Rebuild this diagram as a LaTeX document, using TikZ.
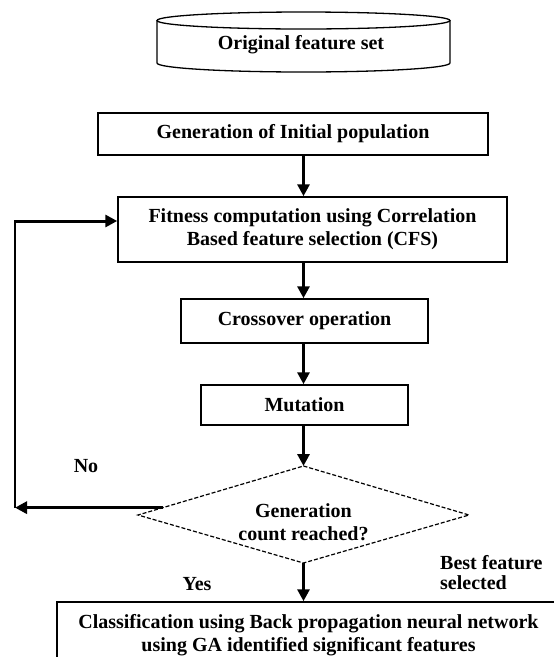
\documentclass[tikz,border=0pt]{standalone}
\usepackage{fontspec}
\setmainfont{Liberation Serif}
\usetikzlibrary{arrows.meta,calc}
\begin{document}
\begin{tikzpicture}[x=1pt,y=-1pt,
  box/.style={draw,line width=1.5pt,inner sep=0pt,align=center,
    font=\fontsize{20}{23}\selectfont\bfseries},
  lbl/.style={inner sep=0pt,font=\fontsize{20}{21}\selectfont\bfseries},
  flow/.style={line width=3pt,-{Triangle[length=12pt,width=12pt]}},
  thinline/.style={line width=1.5pt}]
\useasboundingbox (0,0) rectangle (554,657);
% cylinder (original feature set)
\draw[line width=1.3pt] (303.5,20.5) ellipse [x radius=146.5, y radius=8.5];
\draw[line width=1.3pt] (157,20.5) -- (157,63)
  .. controls (157,68) and (222.6,72) .. (303.5,72)
  .. controls (384.4,72) and (450,68) .. (450,63) -- (450,20.5);
\node[lbl] (orig) at (301,45) {Original feature set};
% boxes
\node[box,minimum width=390pt,minimum height=42pt] (gen) at (293,134) {Generation of Initial population};
\node[box,minimum width=389pt,minimum height=65pt] (fit) at (312.5,229.5) {Fitness computation using Correlation\\Based feature selection (CFS)};
\node[box,minimum width=247pt,minimum height=44pt] (cross) at (304.5,321) {Crossover operation};
\node[box,minimum width=207pt,minimum height=40pt] (mut) at (304.5,405) {Mutation};
\node[box,minimum width=503pt,minimum height=66pt] (cls) at (308.5,635) {Classification using Back propagation neural network\\using GA identified significant features};
% decision diamond
\coordinate (dtop) at (303.5,466);
\coordinate (dright) at (469,515);
\coordinate (dbot) at (303.5,563);
\coordinate (dleft) at (138,515);
\draw[line width=1.2pt,dash pattern=on 4pt off 2pt] (dtop) -- (dright) -- (dbot) -- (dleft) -- cycle;
\node[box,draw=none] (dec) at (303.5,522) {Generation\\count reached?};
% main flow
\coordinate (ax) at (303.5,0);
\draw[flow] (gen.south -| ax) -- (fit.north -| ax);
\draw[flow] (fit.south -| ax) -- (cross.north -| ax);
\draw[flow] (cross.south -| ax) -- (mut.north -| ax);
\draw[flow] (mut.south -| ax) -- (dtop);
\draw[flow] (dbot) -- (cls.north -| dbot);
% loop back
\coordinate (nostart) at ($(dleft)!0.15!(dtop)$);
\coordinate (loopx) at (15,0);
\coordinate (loopb) at (nostart -| loopx);
\coordinate (loopt) at (15,221);
\draw[flow] (nostart) -- (loopb);
\draw[thinline] (loopb) -- (loopt);
\draw[flow] ([xshift=-0.75pt]loopt) -- (fit.west |- loopt);
% labels
\node[lbl] (no) at (86,466) {No};
\node[lbl] (yes) at (197,584) {Yes};
\node[lbl,align=left,anchor=west,font=\fontsize{20}{20}\selectfont\bfseries] (best) at (440,573) {Best feature\\selected};
\end{tikzpicture}
\end{document}
